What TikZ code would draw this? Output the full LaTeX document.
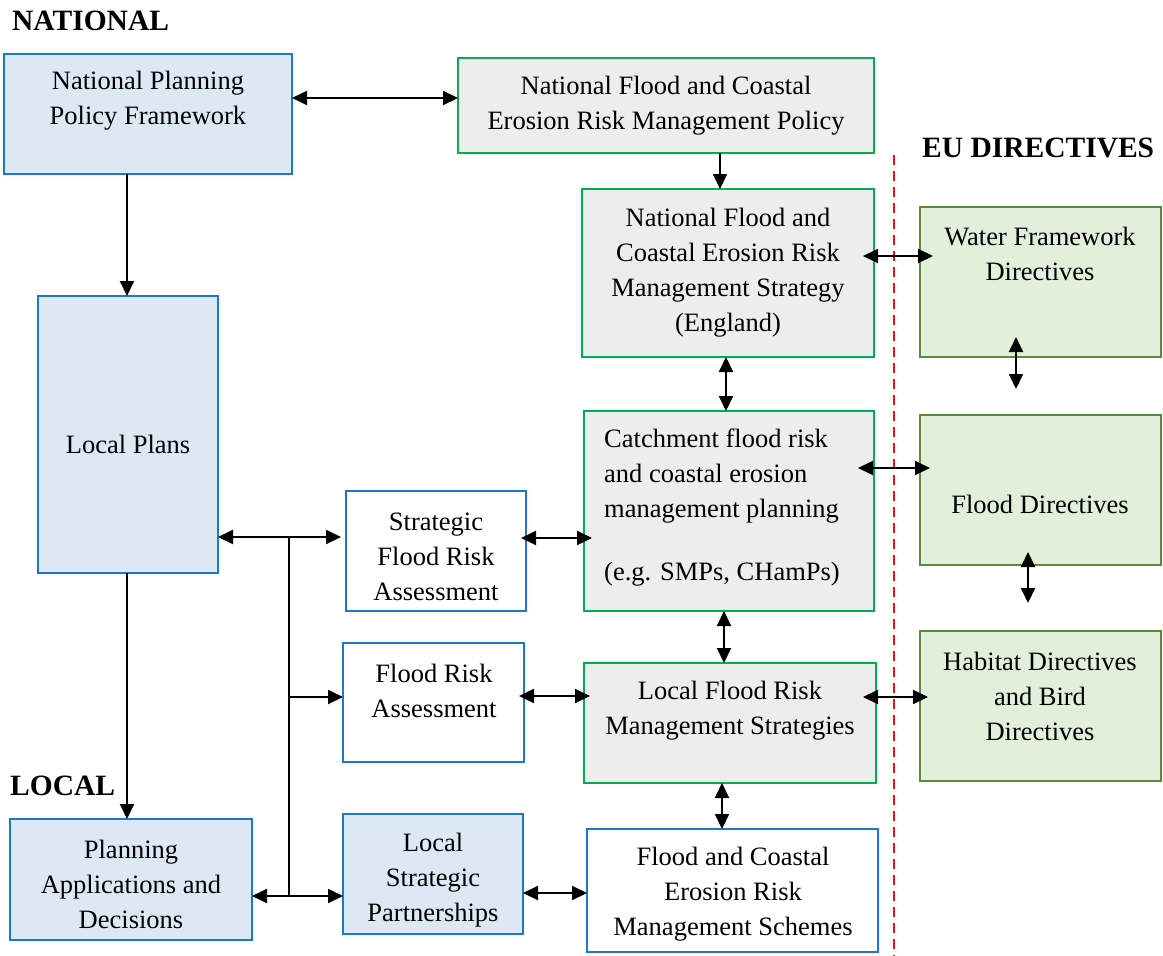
\documentclass[tikz,border=0pt]{standalone}
\usepackage{fontspec}
\setmainfont{Liberation Serif}
\usetikzlibrary{arrows.meta}

\definecolor{bluebd}{HTML}{1C78C8}
\definecolor{bluefill}{HTML}{DDE8F5}
\definecolor{greenbd}{HTML}{00B050}
\definecolor{grayfill}{HTML}{EDEDED}
\definecolor{olivebd}{HTML}{5A8A3C}
\definecolor{olivefill}{HTML}{E2EFDA}
\definecolor{divred}{HTML}{F01010}

\tikzset{
  box/.style={draw, line width=2pt, inner sep=0pt, outer sep=0pt},
  plan/.style={box, draw=bluebd, fill=bluefill},
  assess/.style={box, draw=bluebd, fill=white},
  strat/.style={box, draw=greenbd, fill=grayfill},
  eu/.style={box, draw=olivebd, fill=olivefill},
  txt/.style={font=\fontsize{26.5}{35}\selectfont, align=center, inner sep=0pt},
  head/.style={font=\fontsize{29.5}{32}\selectfont\bfseries, inner sep=0pt, anchor=west},
  tip/.tip={Triangle[length=15pt,width=14pt]},
  link/.style={line width=2pt, -tip},
  both/.style={line width=2pt, tip-tip},
  divider/.style={divred, line width=2.6pt, dash pattern=on 10pt off 6pt}
}

\begin{document}
\begin{tikzpicture}[x=1pt, y=-1pt]
\useasboundingbox (0,0) rectangle (1163,956);

% level headings
\node[head] (hnat) at (12,21) {NATIONAL};
\node[head] (heu) at (922,148) {EU DIRECTIVES};
\node[head] (hloc) at (10,786) {LOCAL};

% boundary to the EU directives
\coordinate (divtop) at (894,155);
\coordinate (divbot) at (894,956);
\draw[divider] (divtop) -- (divbot);

% boxes
\node[plan, minimum width=288pt, minimum height=120pt] (nppf) at (148,114) {};
\node[strat, minimum width=416pt, minimum height=95pt] (policy) at (666,105.5) {};
\node[strat, minimum width=292pt, minimum height=168pt] (strategy) at (728,273) {};
\node[strat, minimum width=290pt, minimum height=200pt] (catch) at (729,511) {};
\node[strat, minimum width=292pt, minimum height=120pt] (lfrms) at (730,723) {};
\node[assess, minimum width=291pt, minimum height=123pt] (schemes) at (732.5,890.5) {};
\node[plan, minimum width=180pt, minimum height=277pt] (lp) at (128,434.5) {};
\node[assess, minimum width=180pt, minimum height=120pt] (sfra) at (436,551) {};
\node[assess, minimum width=181pt, minimum height=119pt] (fra) at (433.5,702.5) {};
\node[plan, minimum width=180pt, minimum height=120pt] (lsp) at (433,874) {};
\node[plan, minimum width=242pt, minimum height=121pt] (pad) at (131,879.5) {};
\node[eu, minimum width=241pt, minimum height=150pt] (water) at (1040.5,282) {};
\node[eu, minimum width=241pt, minimum height=150pt] (fdir) at (1040.5,490) {};
\node[eu, minimum width=241pt, minimum height=150pt] (habitat) at (1040.5,706) {};

% box texts
\node[txt] (nppf-t) at (148,100.5) {National Planning\\Policy Framework};
\node[txt] (policy-t) at (666,106) {National Flood and Coastal\\Erosion Risk Management Policy};
\node[txt] (strategy-t) at (728,272.5) {National Flood and\\Coastal Erosion Risk\\Management Strategy\\(England)};
\node[txt, align=left, anchor=west] (catch-t) at (604,476) {Catchment flood risk\\and coastal erosion\\management planning};
\node[txt, anchor=west] (catch-e) at (604,574) {(e.g. SMPs, CHamPs)};
\node[txt] (lfrms-t) at (730,710.5) {Local Flood Risk\\Management Strategies};
\node[txt] (schemes-t) at (733,894) {Flood and Coastal\\Erosion Risk\\Management Schemes};
\node[txt] (lp-t) at (128,444) {Local Plans};
\node[txt] (sfra-t) at (436,557) {Strategic\\Flood Risk\\Assessment};
\node[txt] (fra-t) at (434,690.5) {Flood Risk\\Assessment};
\node[txt] (lsp-t) at (433,880) {Local\\Strategic\\Partnerships};
\node[txt] (pad-t) at (131,884) {Planning\\Applications and\\Decisions};
\node[txt] (water-t) at (1040,254) {Water Framework\\Directives};
\node[txt] (fdir-t) at (1040,504) {Flood Directives};
\node[txt] (habitat-t) at (1040,696) {Habitat Directives\\and Bird\\Directives};

% national level links
\draw[both] (nppf.east |- 0,98) -- (policy.west |- 0,98);
\draw[link] (policy.south -| 720,0) -- (strategy.north -| 720,0);
\draw[link] (nppf.south -| 127,0) -- (lp.north -| 127,0);
\draw[both] (strategy.south -| 726,0) -- (catch.north -| 726,0);
\draw[both] (catch.south -| 724,0) -- (lfrms.north -| 724,0);
\draw[both] (lfrms.south -| 722,0) -- (schemes.north -| 722,0);

% links to the EU directives
\draw[both, shorten <=-11pt, shorten >=-13pt] (strategy.east |- 0,256) -- (water.west |- 0,256);
\draw[both, shorten <=-16pt, shorten >=-10pt] (catch.east |- 0,468) -- (fdir.west |- 0,468);
\draw[both, shorten <=-13pt, shorten >=-8pt] (lfrms.east |- 0,697) -- (habitat.west |- 0,697);
\draw[both, shorten <=-20pt, shorten >=26pt] (water.south -| 1016,0) -- (fdir.north -| 1016,0);
\draw[both, shorten <=-13pt, shorten >=28pt] (fdir.south -| 1028,0) -- (habitat.north -| 1028,0);

% local level links
\draw[both, shorten >=5pt] (lp.east |- 0,537) -- (sfra.west |- 0,537);
\draw[both, shorten <=-5pt, shorten >=-8pt] (sfra.east |- 0,538) -- (catch.west |- 0,538);
\draw[both, shorten <=-5pt, shorten >=-6pt] (fra.east |- 0,696) -- (lfrms.west |- 0,696);
\draw[both] (lsp.east |- 0,893) -- (schemes.west |- 0,893);
\draw[link] (lp.south -| 127,0) -- (pad.north -| 127,0);

% distribution bus from the local plans
\coordinate (bustop) at (289,537);
\coordinate (busfra) at (289,697);
\coordinate (busbot) at (289,896);
\draw[line width=2pt] (bustop) -- (busbot);
\draw[link] (busfra) -- (fra.west |- busfra);
\draw[both] (pad.east |- busbot) -- (lsp.west |- busbot);
\end{tikzpicture}
\end{document}
